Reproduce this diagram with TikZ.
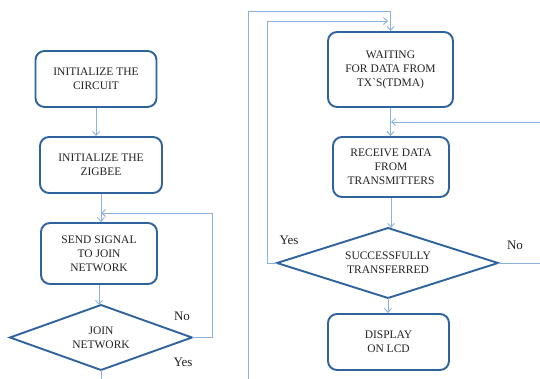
\documentclass[tikz,border=0pt]{standalone}
\usepackage{fontspec}
\setmainfont{Liberation Serif}
\usetikzlibrary{arrows.meta,shapes.geometric,calc}
\definecolor{boxblue}{HTML}{2F639E}
\definecolor{lineblue}{HTML}{8CB2DC}
\definecolor{txt}{HTML}{222222}
\begin{document}
\begin{tikzpicture}[x=1pt,y=-1pt,
  procbox/.style={draw=boxblue,line width=1.9pt,rounded corners=9pt,fill=white,
    align=center,text=txt,font=\fontsize{11.5}{14}\selectfont,inner sep=0pt},
  dtext/.style={text=txt,font=\fontsize{11.5}{14}\selectfont,align=center,inner sep=0pt},
  dshape/.style={draw=boxblue,line width=1.9pt,fill=white},
  conn/.style={draw=lineblue,line width=0.9pt},
  arr/.style={conn,-{Straight Barb[length=4pt,width=7pt,line width=0.9pt]}},
  lbl/.style={text=txt,font=\fontsize{13}{15}\selectfont,inner sep=0pt}]
\useasboundingbox (0,0) rectangle (540,379);
% left column
\node[procbox,minimum width=121pt,minimum height=56pt] (b1) at (96,79) {INITIALIZE THE\\CIRCUIT};
\node[procbox,minimum width=122pt,minimum height=56pt] (b2) at (101,165) {INITIALIZE THE\\ZIGBEE};
\node[procbox,minimum width=116pt,minimum height=61pt] (b3) at (99,253.5) {SEND SIGNAL\\TO JOIN\\NETWORK};
\draw[dshape] (10,337.5) coordinate (d1w) -- (101,305) coordinate (d1n) -- (192,337.5) coordinate (d1e) -- (101,370) coordinate (d1s) -- cycle;
\node[dtext] (d1) at (101,337.5) {JOIN\\NETWORK};
% right column
\node[procbox,minimum width=125pt,minimum height=75pt] (w) at (390.5,69.5) {WAITING\\FOR DATA FROM\\TX\textasciigrave S(TDMA)};
\node[procbox,minimum width=116pt,minimum height=60pt] (r) at (391,167) {RECEIVE DATA\\FROM\\TRANSMITTERS};
\draw[dshape] (277,263) coordinate (d2w) -- (388,228) coordinate (d2n) -- (498,263) coordinate (d2e) -- (388,298) coordinate (d2s) -- cycle;
\node[dtext] (d2) at (388,263) {SUCCESSFULLY\\TRANSFERRED};
\node[procbox,minimum width=121pt,minimum height=56pt] (disp) at (388.5,342) {DISPLAY\\ON LCD};
% coordinates for free ends
\coordinate (fb1) at (212,213);
\coordinate (bot1) at (101,379);
\coordinate (c1) at (248,379);
\coordinate (c2) at (248,11);
\coordinate (c3) at (267,21);
\coordinate (c4) at (388,21);
\coordinate (r1) at (540,263);
\coordinate (r2) at (540,122);
% connectors
\draw[arr] (b1.south) -- (b1.south |- b2.north);
\draw[arr] (b2.south) -- (b2.south |- b3.north);
\draw[arr] (b3.south) -- (b3.south |- d1n);
\draw[arr] (d1e) -| (fb1) -- (fb1 -| b2.south);
\draw[conn] (d1s) -- (bot1);
\draw[arr] (c1) -- (c2) -| (w.north);
\draw[arr] (d2w) -- (d2w -| c3) -- (c3) -- (c4);
\draw[arr] (w.south) -- (w.south |- r.north);
\draw[arr] (r2) -- (r2 -| r.north);
\draw[arr] (r.south) -- (r.south |- d2n);
\draw[conn] (d2e) -- (r1);
\draw[arr] (d2s) -- (d2s |- disp.north);
% labels
\node[lbl] (no1) at (182,316) {No};
\node[lbl] (yes1) at (183,362) {Yes};
\node[lbl] (yes2) at (289,240) {Yes};
\node[lbl] (no2) at (515,245) {No};
\end{tikzpicture}
\end{document}
